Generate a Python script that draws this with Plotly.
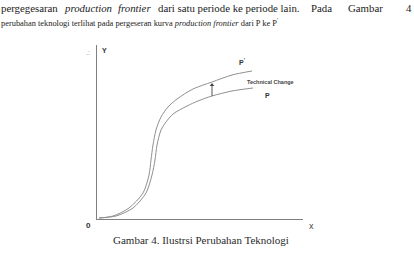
import plotly.graph_objects as go

# Curve P' (after technical change) (x right, y up, pixel-like units)
p_new_x = [2, 16, 32, 46, 52, 54, 56, 59, 64, 71, 80, 96, 115, 135, 155]
p_new_y = [1, 3, 11, 26, 44, 59, 74, 89, 102, 112, 120, 130, 137, 144, 148]
# Curve P (before)
p_old_x = [2, 19, 36, 49, 55, 58, 60, 64, 69, 76, 90, 101, 115, 135, 156]
p_old_y = [1, 3, 11, 26, 44, 59, 74, 89, 97, 105, 113, 118, 123, 128, 131]

arrow_x = [115, 115]
arrow_y = [123, 134]

line1_parts = ["pergegesaran", "<i>production</i>", "<i>frontier</i>",
               "dari satu periode ke periode lain.", "Pada", "Gambar", "4"]
line2 = "perubahan teknologi terlihat pada pergeseran kurva <i>production frontier</i> dari P ke P<sup>'</sup>"
caption = "Gambar 4. Ilustrsi Perubahan Teknologi"

fig = go.Figure()
for xs, ys in [(p_new_x, p_new_y), (p_old_x, p_old_y)]:
    fig.add_trace(go.Scatter(x=xs, y=ys, mode="lines",
                             line=dict(color="#909090", width=1, shape="spline", smoothing=0.8),
                             hoverinfo="skip", showlegend=False))

# technical change arrow (shaft + head)
fig.add_trace(go.Scatter(x=arrow_x, y=arrow_y, mode="lines",
                         line=dict(color="#555", width=1), hoverinfo="skip", showlegend=False))
fig.add_trace(go.Scatter(x=arrow_x[1:], y=arrow_y[1:], mode="markers",
                         marker=dict(symbol="triangle-up", size=4, color="#444"),
                         hoverinfo="skip", showlegend=False))

def txt(x, y, s, size, xref="x", yref="y", family="Liberation Sans", color="#333", xanchor="center", bold=False):
    fig.add_annotation(x=x, y=y, xref=xref, yref=yref, text=("<b>%s</b>" % s) if bold else s,
                       showarrow=False, xanchor=xanchor, yanchor="middle",
                       font=dict(size=size, family=family, color=color))

txt(145, 157, "P<sup>'</sup>", 7, bold=True)
txt(170, 124, "P", 7, bold=True)
txt(173, 137, "Technical Change", 5.5, bold=True, color="#444")

# axis labels
txt(88, 226, "0", 8, xref="paper", yref="paper", bold=True)
txt(311, 226, "x", 9, xref="paper", yref="paper", color="#444")
txt(104, 50, "Y", 7, xref="paper", yref="paper", bold=True)
txt(88, 52, ".:", 7, xref="paper", yref="paper", color="#888")
txt(201, 240, caption, 11, xref="paper", yref="paper", family="Liberation Serif", color="#2a2a2a")
for xpos, anchor, part in zip([-1, 62, 153, 302, 309, 346, 404],
                              ["left", "left", "right", "right", "left", "left", "left"], line1_parts):
    txt(xpos, 8, part, 10.8, xref="paper", yref="paper", family="Liberation Serif", color="#222", xanchor=anchor)
txt(-1, 22, line2, 8.4, xref="paper", yref="paper", family="Liberation Serif", color="#222", xanchor="left")

fig.update_layout(
    width=414, height=256,
    margin=dict(l=97, r=111, t=45, b=37),
    paper_bgcolor="white", plot_bgcolor="white",
    xaxis=dict(range=[0, 206], showgrid=False, zeroline=False, showticklabels=False,
               showline=True, linecolor="#808080", linewidth=1, ticks=""),
    yaxis=dict(range=[0, 174], showgrid=False, zeroline=False, showticklabels=False,
               showline=True, linecolor="#808080", linewidth=1, ticks=""),
)

# convert paper annotations given in pixels to paper fractions
pw, ph = 206, 174
for a in fig.layout.annotations:
    if a.xref == "paper":
        a.x = (a.x - 97) / pw
        a.y = (219 - a.y) / ph

fig.write_html("out.html")
